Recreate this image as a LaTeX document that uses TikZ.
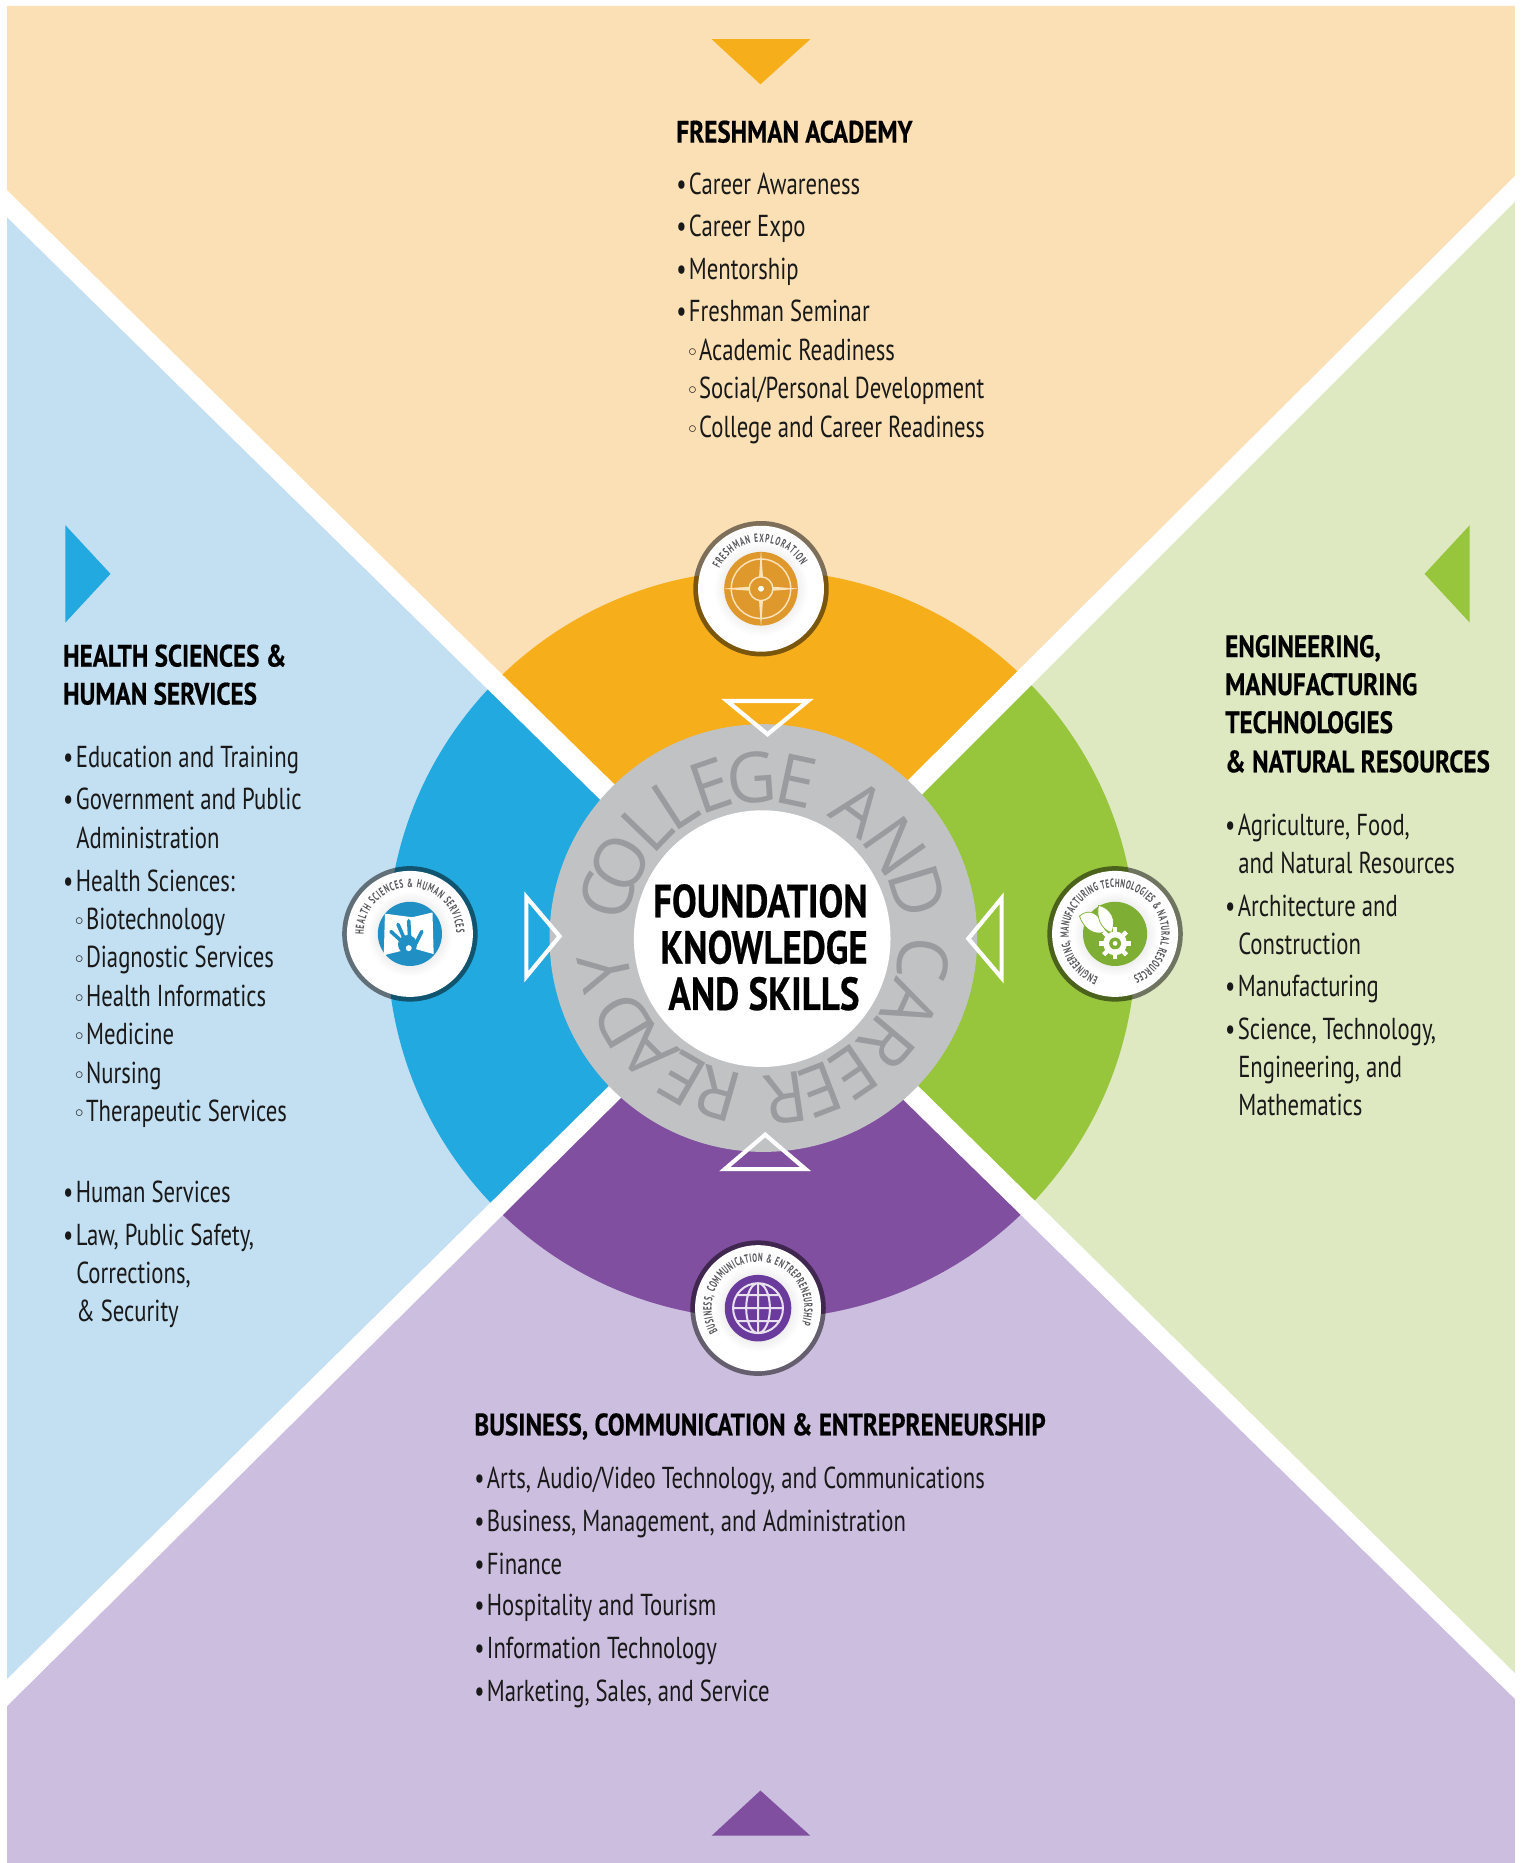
\documentclass[tikz,border=0pt]{standalone}
\usepackage{fontspec}
\usetikzlibrary{decorations.text}
\setmainfont{PT Sans}[FakeStretch=0.75]
\newfontfamily\hf{PT Sans}[FakeStretch=0.815,FakeBold=0.4]
\newfontfamily\cf{PT Sans}[FakeStretch=0.80,FakeBold=0.4]
\newfontfamily\iconf{PT Sans}[FakeStretch=0.60]
\newfontfamily\ringfont{Open Sans}[FakeStretch=0.98]
\newfontfamily\symfont{DejaVu Sans}
\definecolor{bgpeach}{HTML}{FCE0B5}
\definecolor{bgblue}{HTML}{C3DFF2}
\definecolor{bggreen}{HTML}{DEE9C2}
\definecolor{bgpurple}{HTML}{CCBEDF}
\definecolor{secorange}{HTML}{F7AE1B}
\definecolor{secblue}{HTML}{22A9DF}
\definecolor{secgreen}{HTML}{97C53C}
\definecolor{secpurple}{HTML}{804F9F}
\definecolor{ringgray}{HTML}{C1C2C4}
\definecolor{ringtext}{HTML}{9A9B9E}
\definecolor{icontext}{HTML}{55555A}
\definecolor{discorange}{HTML}{DF982C}
\definecolor{lineorange}{HTML}{FBE3BC}
\definecolor{discblue}{HTML}{1F8FC4}
\definecolor{discgreen}{HTML}{7FAE35}
\definecolor{discpurple}{HTML}{6A3A9C}
\newcommand{\bu}{•\hspace{2pt}}
\newcommand{\su}{{\symfont\fontsize{19}{19}\selectfont ◦}}
\newcommand{\amper}{\&}
\newcommand{\iconbase}[5]{% x,y,disc colour,disc radius,ring radius
  \fill[black,opacity=.5] (#1,#2) circle[radius=57pt];
  \fill[white] (#1,#2) circle[radius=53pt];
  \shade[inner color=gray!50,outer color=white] (#1,#2) circle[radius=#5pt];
  \fill[#3] (#1,#2) circle[radius=#4pt];
}
\newcommand{\icontext}[4]{% r, start, end, text
  \path[decorate,decoration={text along path,text align={fit to path},
    text={|\iconf\bfseries\color{icontext}\fontsize{10}{10}\selectfont|#4}}]
    (#2:#1pt) arc[start angle=#2,end angle=#3,radius=#1pt];
}
\tikzset{
  item/.style={anchor=base west,inner sep=0pt,yshift=-1pt,font=\fontsize{25.5}{30}\selectfont,text=black!90},
  head/.style={anchor=base west,inner sep=0pt,font=\hf\bfseries\fontsize{26}{30}\selectfont,text=black},
  core/.style={anchor=base,inner sep=0pt,font=\cf\bfseries\fontsize{39}{42}\selectfont,text=black},
  ringletter/.style={anchor=base,inner sep=0pt,font=\ringfont\fontsize{59}{60}\selectfont,text=ringtext},
  hollowtri/.style={draw=white,line width=3.5pt,miter limit=10},
}
\begin{document}
\begin{tikzpicture}[x=1pt,y=-1pt]
\useasboundingbox (0,0) rectangle (1281.8,1568);
\fill[white] (0,0) rectangle (1281.8,1568);
% quadrants
\fill[bgpeach] (6,5) -- (1275,5) -- (1275,148) -- (640,780) -- (6,160) -- cycle;
\fill[bgblue] (6,183) -- (631,797) -- (6,1413) -- cycle;
\fill[bggreen] (1275,170) -- (651,794) -- (1275,1408) -- cycle;
\fill[bgpurple] (6,1436) -- (640,808) -- (1275,1430) -- (1275,1568) -- (6,1568) -- cycle;
% sectors
\begin{scope}
\clip (6,5) -- (1275,5) -- (1275,148) -- (640,780) -- (6,160) -- cycle;
\fill[secorange] (641,795) circle[radius=315pt];
\end{scope}
\begin{scope}
\clip (6,183) -- (631,797) -- (6,1413) -- cycle;
\fill[secblue] (641,795) circle[radius=315pt];
\end{scope}
\begin{scope}
\clip (1275,170) -- (651,794) -- (1275,1408) -- cycle;
\fill[secgreen] (641,795) circle[radius=315pt];
\end{scope}
\begin{scope}
\clip (6,1436) -- (640,808) -- (1275,1430) -- (1275,1568) -- (6,1568) -- cycle;
\fill[secpurple] (641,795) circle[radius=315pt];
\end{scope}
% corner triangles
\fill[secorange] (599,33) -- (682,33) -- (640,71) -- cycle;
\fill[secblue] (55,442) -- (55,524) -- (93,483) -- cycle;
\fill[secgreen] (1237,442) -- (1237,524) -- (1199,483) -- cycle;
\fill[secpurple] (599,1545) -- (682,1545) -- (640,1507) -- cycle;
% centre
\fill[ringgray] (642.5,789.5) circle[radius=180pt];
\fill[white] (641.5,790) circle[radius=108pt];
\begin{scope}[shift={(642,790)},x=1pt,y=1pt]
\foreach \l/\a [count=\i] in {C/164.5,O/152,L/136,L/123,E/109,G/94,E/78,A/53.5,N/35,D/17,C/-7.5,A/-24.5,R/-40,E/-55.7,E/-69,R/-81.7,R/-106,E/-120,A/-135,D/-149.5,Y/-168}
  \node[ringletter,rotate=\a-90] (ring\i) at (\a:115pt) {\l};
\end{scope}
\draw[hollowtri] (612,590) -- (680,590) -- (646,618) -- cycle;
\draw[hollowtri] (443,755) -- (443,822) -- (471,788) -- cycle;
\draw[hollowtri] (843,756) -- (843,823) -- (815,790) -- cycle;
\draw[hollowtri] (610,984) -- (678,984) -- (644,955) -- cycle;
\node[core] (c1) at (640,772) {FOUNDATION};
\node[core] (c2) at (643,811) {KNOWLEDGE};
\node[core] (c3) at (643,850) {AND SKILLS};
% icon top
\iconbase{640.5}{495.5}{discorange}{31}{40}
\begin{scope}[shift={(640.5,495.5)},x=1pt,y=1pt]
\icontext{39}{154}{30}{FRESHMAN EXPLORATION}
\draw[lineorange,line width=1.2pt] (0,0) circle[radius=25pt];
\fill[lineorange] (0,33) -- (2.2,2.2) -- (33,0) -- (2.2,-2.2) -- (0,-33) -- (-2.2,-2.2) -- (-33,0) -- (-2.2,2.2) -- cycle;
\fill[discorange] (0,0) circle[radius=10pt];
\draw[lineorange,line width=1.2pt] (0,0) circle[radius=10pt];
\fill[white] (0,0) circle[radius=2.5pt];
\end{scope}
% icon left
\iconbase{345}{786}{discblue}{27}{36}
\begin{scope}[shift={(345,786)},x=1pt,y=1pt]
\icontext{39}{181}{1}{HEALTH SCIENCES {\amper} HUMAN SERVICES}
\fill[white] (-21,17) -- (-22,-18) -- (2,-12) -- (20,-17) -- (19,18) -- (2,14) -- cycle;
\fill[discblue] (-2,-9) circle[radius=8pt];
\draw[discblue,line width=3pt,line cap=round]
  (-5,-8) -- (-16,2) (-3,-8) -- (-10,8) (0,-8) -- (-1,11) (5,-8) -- (10,2);
\fill[white] (-1,-12) circle[radius=2.5pt];
\end{scope}
% icon right
\iconbase{938.5}{786}{discgreen}{27}{36}
\begin{scope}[shift={(938.5,786)},x=1pt,y=1pt]
\icontext{39}{249}{-67}{ENGINEERING, MANUFACTURING TECHNOLOGIES {\amper} NATURAL RESOURCES}
\fill[white,draw=discgreen,line width=.6pt] (-30,15) .. controls (-22,22) and (-12,18) .. (-8,2) .. controls (-16,-2) and (-26,3) .. (-30,15) -- cycle;
\fill[white,draw=discgreen,line width=.6pt] (-14,24) .. controls (-4,22) and (2,12) .. (-3,1) .. controls (-12,4) and (-16,14) .. (-14,24) -- cycle;
\foreach \a in {0,45,...,315}{\fill[white,rotate around={\a:(0,-8)}] (-1.8,-21.5) rectangle (1.8,5.5);}
\fill[white] (0,-8) circle[radius=10pt];
\fill[discgreen] (0,-8) circle[radius=5pt];
\fill[white] (0,-8) circle[radius=2pt];
\end{scope}
% icon bottom
\iconbase{638}{1101}{discpurple}{28}{37}
\begin{scope}[shift={(638,1101)},x=1pt,y=1pt]
\icontext{39}{210}{-20}{BUSINESS, COMMUNICATION {\amper} ENTREPRENEURSHIP}
\draw[white!85!discpurple,line width=1.7pt] (0,0) circle[radius=21pt]
  (0,0) ellipse[x radius=10pt,y radius=21pt] (0,-21) -- (0,21)
  (-21,0) -- (21,0) (-18,11) -- (18,11) (-18,-11) -- (18,-11);
\end{scope}
% top list
\node[head] (t0) at (569,120) {FRESHMAN ACADEMY};
\node[item] (t1) at (569,163) {\bu Career Awareness};
\node[item] (t2) at (569,198) {\bu Career Expo};
\node[item] (t3) at (569,234) {\bu Mentorship};
\node[item] (t4) at (569,270) {\bu Freshman Seminar};
\node[item] (t5) at (577,302) {\su Academic Readiness};
\node[item] (t6) at (577,334) {\su Social/Personal Development};
\node[item] (t7) at (577,367) {\su College and Career Readiness};
% left list
\node[head] (l0) at (53,561) {HEALTH SCIENCES \&};
\node[head] (l00) at (53,593) {HUMAN SERVICES};
\node[item] (l1) at (53,645) {\bu Education and Training};
\node[item] (l2) at (53,680) {\bu Government and Public};
\node[item] (l3) at (64,713) {Administration};
\node[item] (l4) at (53,749) {\bu Health Sciences:};
\node[item] (l5) at (61,781) {\su Biotechnology};
\node[item] (l6) at (61,813) {\su Diagnostic Services};
\node[item] (l7) at (61,846) {\su Health Informatics};
\node[item] (l8) at (61,878) {\su Medicine};
\node[item] (l9) at (61,911) {\su Nursing};
\node[item] (l10) at (61,943) {\su Therapeutic Services};
\node[item] (l11) at (53,1011) {\bu Human Services};
\node[item] (l12) at (53,1047) {\bu Law, Public Safety,};
\node[item] (l13) at (64,1079) {Corrections,};
\node[item] (l14) at (64,1111) {\& Security};
% right list
\node[head] (r0) at (1031,553) {ENGINEERING,};
\node[head] (r00) at (1031,585) {MANUFACTURING};
\node[head] (r01) at (1031,617) {TECHNOLOGIES};
\node[head] (r02) at (1031,650) {\& NATURAL RESOURCES};
\node[item] (r1) at (1031,702) {\bu Agriculture, Food,};
\node[item] (r2) at (1042,734) {and Natural Resources};
\node[item] (r3) at (1031,770) {\bu Architecture and};
\node[item] (r4) at (1042,802) {Construction};
\node[item] (r5) at (1031,838) {\bu Manufacturing};
\node[item] (r6) at (1031,874) {\bu Science, Technology,};
\node[item] (r7) at (1042,906) {Engineering, and};
\node[item] (r8) at (1042,938) {Mathematics};
% bottom list
\node[head] (b0) at (399,1208) {BUSINESS, COMMUNICATION \& ENTREPRENEURSHIP};
\node[item] (b1) at (399,1252) {\bu Arts, Audio/Video Technology, and Communications};
\node[item] (b2) at (399,1288) {\bu Business, Management, and Administration};
\node[item] (b3) at (399,1324) {\bu Finance};
\node[item] (b4) at (399,1359) {\bu Hospitality and Tourism};
\node[item] (b5) at (399,1395) {\bu Information Technology};
\node[item] (b6) at (399,1431) {\bu Marketing, Sales, and Service};
\end{tikzpicture}
\end{document}
